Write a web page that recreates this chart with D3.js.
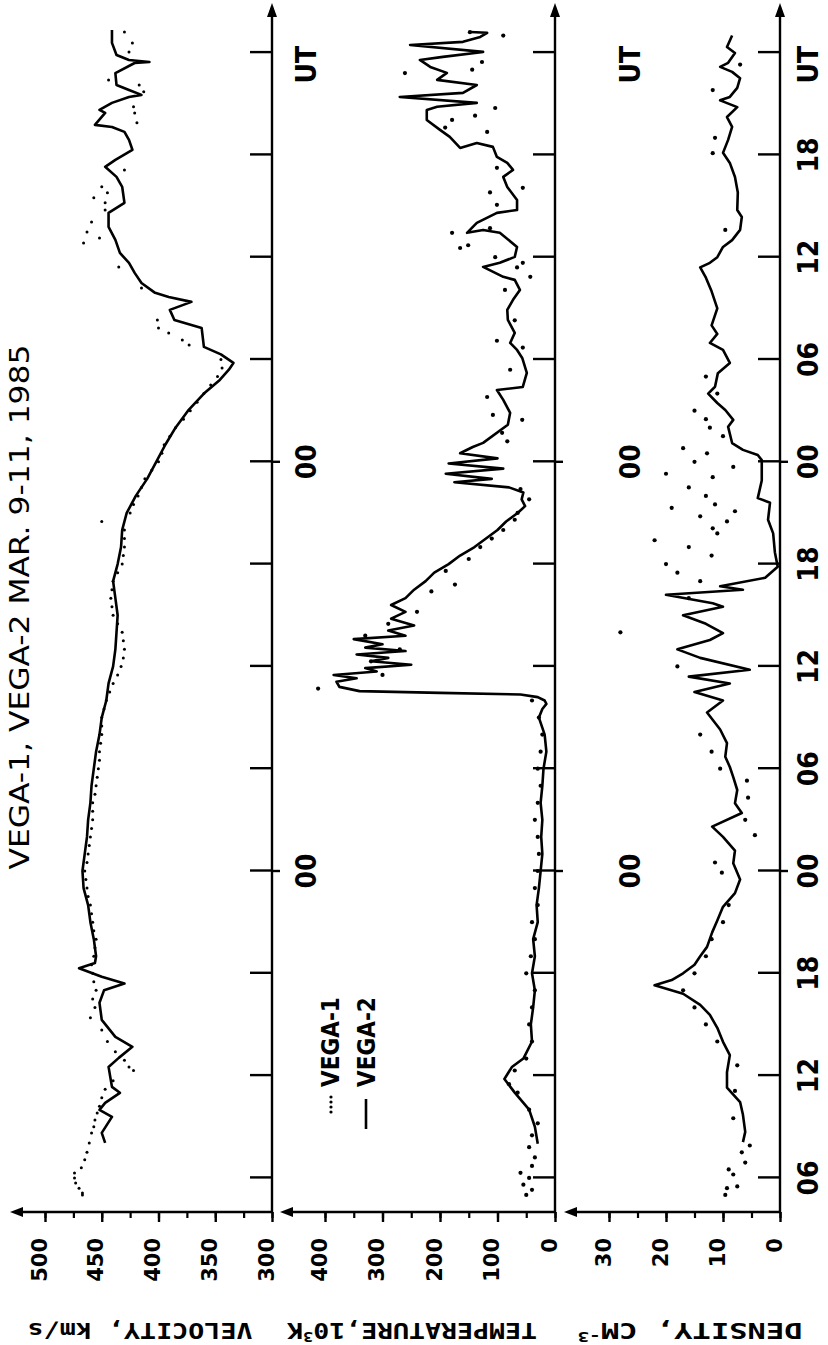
<!DOCTYPE html>
<html>
<head>
<meta charset="utf-8">
<script src="https://cdn.jsdelivr.net/npm/d3@7"></script>
<style>
body { margin: 0; background: #fff; }
text { font-family: "DejaVu Sans Condensed", "DejaVu Sans", sans-serif; font-weight: bold; fill: #000; }
</style>
</head>
<body>
<svg id="chart" width="828" height="1345"></svg>
<script>
// time in hours from 1985-03-09 00 UT
var timeTicks  = [6, 12, 18, 24, 30, 36, 42, 48, 54, 60, 66, 72];
var timeLabels = ['06', '12', '18', '00', '06', '12', '18', '00', '06', '12', '18', 'UT'];

var velTicks = [300, 350, 400, 450, 500];
var tempTicks = [0, 100, 200, 300, 400];
var densTicks = [0, 10, 20, 30];

// VEGA-2 (solid line) and VEGA-1 (dots), [hour, value]
var vel2 = [[8.05,447],[8.64,450],[9.58,441],[9.99,452],[10.4,447],[10.99,434],[11.34,441],[12.51,444],[13.04,435],[13.69,423],[14.27,438],[15.27,450],[16.27,452],[17.0,448],[17.4,430],[17.8,450],[18.3,470],[18.6,456],[19,455],[20,457],[21,460],[22,462],[23,466],[24,467],[25,465],[26,463],[27,462],[28,460],[29,459],[30,457],[31,455],[32,452],[33,450],[34,446],[35,444],[36,440],[37,438],[38,437],[39,436],[40,438],[41,440],[42,436],[43,433],[44,432],[45,428],[46,420],[47,410],[48,402],[49,394],[50,385],[51,374],[52,360],[52.8,346],[53.4,338],[53.8,334],[54.3,345],[54.74,360],[55.85,362],[56.32,386],[56.91,390],[57.38,371],[57.67,391],[57.91,403],[58.49,415],[59.08,421],[59.67,426],[60.25,434],[61.02,438],[61.78,444],[62.6,444],[63.19,430],[64.13,432],[64.71,437],[65.3,447],[65.71,438],[66.3,423],[66.88,426],[67.35,430],[67.64,441],[67.76,456],[68.46,447],[68.64,452],[69.05,441],[69.4,426],[69.52,415],[69.81,426],[70.1,437],[70.8,438],[71.39,421],[71.45,408],[71.57,426],[71.86,437],[72.57,441],[73.33,441]];
var vel1 = [[5.0,467],[5.12,467],[5.4,470],[5.7,473],[6.0,474],[6.29,474],[6.6,468],[7.06,465],[7.5,463],[8.05,461],[8.64,459],[9.0,457],[9.4,456],[9.8,454],[10.2,452],[10.7,450],[11.2,447],[11.7,440],[12.3,422],[12.5,426],[12.9,430],[13.4,438],[14.0,445],[14.68,450],[15.4,460],[16,456],[16.5,458],[17,455],[17.5,457],[18,458],[18.5,459],[19,457],[19.5,456],[20,455],[20.5,457],[21,458],[21.5,459],[22,460],[22.5,462],[23,463],[23.5,464],[24,465],[24.5,463],[25,462],[25.5,461],[26,460],[26.5,459],[27,458],[27.5,458],[28,458],[28.5,456],[29,455],[29.5,454],[30,453],[30.5,452],[31,452],[31.5,451],[32,450],[32.5,450],[33,450],[33.5,448],[34,446],[34.5,443],[35,440],[35.5,436],[36,433],[36.5,431],[37,430],[37.5,431],[38,432],[38.5,436],[39,440],[39.5,441],[40,442],[40.5,441],[41,440],[41.5,436],[42,432],[42.5,431],[43,430],[43.5,430],[44,430],[44.5,450],[45,425],[45.5,422],[46,418],[46.5,415],[47,412],[47.5,406],[48,400],[48.5,397],[49,395],[49.5,390],[50,385],[50.5,378],[51,372],[51.5,366],[52,360],[52.5,354],[53,348],[53.5,344],[54,345],[54.85,373],[55.14,379],[55.56,391],[55.85,400],[56.32,401],[58.2,415],[59.43,435],[60.84,466],[61.13,452],[61.48,463],[62.07,459],[62.77,447],[63.19,447],[63.48,457],[63.78,445],[64.13,450],[65.12,430],[67.88,419],[68.46,421],[68.82,422],[69.7,413],[70.1,417],[70.4,444],[72.04,426],[72.57,423],[73.21,430]];

var temp2 = [[8,30],[9,35],[10,45],[11,70],[11.8,88],[12.5,75],[13,55],[14,40],[15,42],[16,38],[17,35],[18,40],[19,35],[20,38],[21,30],[22,32],[23,28],[24,25],[25,22],[26,24],[27,22],[28,25],[29,22],[30,20],[31,15],[32,18],[33,28],[33.5,22],[33.8,15],[34.0,18],[34.2,30],[34.35,60],[34.45,200],[34.55,340],[34.8,375],[35.1,380],[35.3,345],[35.5,385],[35.7,310],[35.9,330],[36.1,250],[36.3,320],[36.5,290],[36.7,345],[36.9,260],[37.1,330],[37.3,300],[37.6,350],[37.8,260],[38.1,290],[38.4,245],[38.8,285],[39.2,260],[39.6,285],[40.0,260],[40.5,245],[41.0,225],[41.5,210],[42.0,185],[42.5,165],[43.0,140],[43.5,120],[44.0,100],[44.5,85],[45.0,65],[45.4,52],[45.8,58],[46.2,55],[46.5,80],[46.8,175],[47.0,110],[47.3,190],[47.6,90],[47.9,185],[48.2,100],[48.5,165],[48.87,143],[49.11,125],[50.17,82],[50.87,78],[51.63,90],[52.21,101],[52.39,56],[53.21,49],[54.09,57],[54.56,66],[54.97,78],[55.56,70],[56.32,82],[56.91,83],[57.5,73],[58.08,61],[58.67,70],[58.85,90],[59.43,125],[59.67,96],[60.02,70],[60.6,66],[61.43,96],[61.6,125],[61.43,153],[62.01,136],[62.6,101],[62.77,66],[63.36,66],[64.12,83],[64.71,90],[65.12,73],[65.53,83],[65.88,101],[66.47,108],[66.7,136],[66.41,165],[67.06,183],[67.47,200],[68.05,223],[68.64,223],[68.82,205],[69.05,136],[69.4,270],[69.64,160],[70.1,136],[70.4,205],[70.81,188],[71.16,217],[71.57,235],[71.75,195],[72.04,125],[72.45,252],[72.63,160],[72.92,130],[73.16,118],[73.21,148]];
var temp1 = [[5.0,50],[5.3,40],[5.6,55],[6.0,45],[6.3,60],[6.7,40],[7.2,35],[7.8,45],[8.5,40],[9.2,30],[10,45],[11,65],[11.5,80],[12.3,70],[13,50],[14,40],[15,45],[16,40],[17,35],[18,50],[19,42],[20,35],[21,40],[22,30],[23,35],[24,30],[25,28],[26,30],[27,35],[28,30],[29,25],[30,30],[31,25],[32,22],[33,28],[34,40],[34.7,412],[35.5,300],[36.3,320],[37,270],[37.8,330],[38.5,290],[39.2,240],[40.4,215],[40.8,174],[41.6,190],[42.3,150],[43,130],[43.5,110],[44,90],[44.6,70],[45,65],[45.8,45],[46.4,60],[49.2,83],[49.7,92],[50.46,57],[50.75,108],[51.8,118],[53.4,78],[54.7,56],[55.1,101],[56.3,70],[58.08,87],[58.85,43],[59.4,66],[59.67,56],[60.0,104],[60.54,165],[60.7,151],[61.43,179],[61.7,113],[63.07,101],[63.8,113],[64.07,56],[65.24,101],[67.35,118],[67.6,191],[68.05,179],[68.3,139],[68.75,104],[70.8,261],[71.0,144],[71.45,127],[73.0,90],[73.2,148]];

var dens2 = [[8.1,6.5],[8.7,6.1],[9.7,6.5],[10.45,7.0],[11.3,9.3],[12.2,9.3],[13.2,8.8],[13.98,10],[14.8,11],[15.56,12.3],[16.15,14],[16.8,17],[17.3,22],[17.6,19],[18,17],[18.5,15],[19,14],[19.55,12.8],[20.4,11.9],[21.1,11],[21.9,10],[22.7,7.9],[23.5,7.0],[24.45,8.2],[25.2,7.9],[26.0,10],[26.6,11.9],[27.4,6.7],[27.98,7.9],[28.75,7.5],[29.5,8.2],[30.1,8.8],[30.7,9.6],[31.5,9.3],[32.3,10.5],[33.3,12.8],[34,10],[34.5,15],[35,8.8],[35.4,16],[35.8,5.3],[36.5,14],[37,18],[37.55,12.3],[37.95,10],[38.5,13],[39,17],[39.5,10],[39.7,11.8],[40.2,20],[40.5,6.5],[40.7,10.5],[41.2,2.6],[41.85,0.4],[42.7,0.9],[43.8,1.2],[44.6,2.1],[45.6,1.75],[45.87,3.9],[46.9,3.2],[48.1,3.2],[48.4,3.9],[48.7,6.5],[49.1,8.4],[50.05,9.1],[50.46,8.2],[51.04,9.6],[51.45,11],[52.0,12.6],[52.4,11.4],[53.2,10.9],[53.8,8.8],[54.56,10],[54.97,12.3],[55.5,11],[56,12],[57,11],[58,12],[58.8,13],[59.4,14],[59.67,12.3],[60.0,11],[60.6,10],[61.0,8.4],[61.6,7.0],[62.36,6.7],[62.77,7.5],[63.8,7.4],[64.7,7.9],[65.53,8.8],[66.12,10],[66.88,9.1],[67.64,8.4],[68.22,9.3],[68.8,7.5],[69.2,10.5],[69.4,8.8],[69.93,7.5],[70.5,7.0],[70.87,8.4],[71.16,10.5],[71.4,9.1],[71.98,7.9],[72.33,9.3],[73.0,8.4]];
var dens1 = [[5.0,9.6],[5.4,9.3],[5.5,7.5],[6.2,8.2],[6.5,9.0],[6.9,6.1],[7.5,6.7],[7.9,5.3],[9.5,8.2],[11.1,7.9],[12.6,7.5],[14,11],[15,13],[16,15],[17,17],[18,15],[19,13],[20,12],[21,10],[22,9],[23.9,10.2],[24.5,11.4],[26.1,4.4],[27,6.1],[28.3,5.6],[29.3,5.8],[30,10.5],[31,12],[32,14],[36,18],[38,28],[40,16],[41,14],[41.5,18],[42,20],[42.5,12],[43,16],[43.4,22],[43.8,11],[44.1,11.8],[44.5,9.3],[44.8,14],[45.1,7.9],[45.3,19],[45.5,11.4],[46,13],[46.5,16],[47.1,11.8],[47.3,20],[47.7,8.2],[48,15],[48.5,12.8],[48.8,17],[49.5,10],[50,12.3],[50.5,13],[51,15],[52,11],[53,13],[61.6,9.6],[66.1,11.8],[67,11.4],[69.8,11.8],[71.3,7]];

var svg = d3.select('#chart');
// the figure is printed sideways: draw it in landscape and turn it
var g = svg.append('g').attr('transform', 'translate(0,1345) rotate(-90)');

var x = d3.scaleLinear().domain([4, 74]).range([133, 1326.5]);
var xEnd = 1334;

var panels = [
  { y: d3.scaleLinear().domain([300, 500]).range([272, 45]), top: 12, ticks: velTicks, minor: d3.range(300, 501, 25),
    line: vel2, dots: vel1, r: 1.5, title: ['VELOCITY, km/s'], tc: 140, tl: 225, lab: 306 },
  { y: d3.scaleLinear().domain([0, 400]).range([555, 325]), top: 282, ticks: tempTicks, minor: d3.range(0, 401, 50),
    line: temp2, dots: temp1, r: 2.1, title: ['TEMPERATURE,10', '3', 'K'], tc: 412, tl: 250, lab: 630 },
  { y: d3.scaleLinear().domain([0, 30]).range([780, 609]), top: 566, ticks: densTicks, minor: d3.range(0, 31, 5),
    line: dens2, dots: dens1, r: 2.1, title: ['DENSITY, CM', '-3', ''], tc: 690, tl: 225 }
];

var line = d3.line();

panels.forEach(function(p, i){
  var base = p.y.range()[0];
  var pg = g.append('g').attr('class', 'panel');

  // time axis
  pg.append('line').attr('x1', 133).attr('x2', xEnd).attr('y1', base).attr('y2', base)
    .attr('stroke', '#000').attr('stroke-width', 2.4);
  pg.append('path').attr('d', 'M' + (xEnd + 8) + ',' + base + 'l-14,-5l0,10z').attr('fill', '#000');
  var ta = d3.axisTop(x).tickValues(timeTicks).tickSize(22).tickFormat('');
  pg.append('g').attr('transform', 'translate(0,' + base + ')').call(ta)
    .call(function(s){ s.select('.domain').remove(); s.selectAll('line').attr('stroke-width', 2.4); });
  // midnight ticks cross the axis
  pg.selectAll('line.cross').data([24, 48]).enter().append('line').attr('class', 'cross')
    .attr('x1', function(d){ return x(d); }).attr('x2', function(d){ return x(d); })
    .attr('y1', base).attr('y2', base + 8).attr('stroke', '#000').attr('stroke-width', 2.4);

  // value axis
  pg.append('line').attr('x1', 133).attr('x2', 133).attr('y1', base).attr('y2', p.top + 6)
    .attr('stroke', '#000').attr('stroke-width', 2.4);
  pg.append('path').attr('d', 'M133,' + (p.top - 2) + 'l-5,13l10,0z').attr('fill', '#000');
  pg.append('g').attr('transform', 'translate(133,0)')
    .call(d3.axisLeft(p.y).tickValues(p.minor).tickSize(6).tickFormat(''))
    .call(function(s){ s.select('.domain').remove(); s.selectAll('line').attr('stroke-width', 2.2); });
  var va = pg.append('g').attr('transform', 'translate(133,0)')
    .call(d3.axisLeft(p.y).tickValues(p.ticks).tickSize(10).tickPadding(16))
    .call(function(s){ s.select('.domain').remove(); s.selectAll('line').attr('stroke-width', 2.4); });
  va.selectAll('text').attr('font-size', 21).attr('dy', '0.05em')
    .style('font-family', '"DejaVu Sans", sans-serif');

  // axis title, vertical in landscape
  var tt = pg.append('text').attr('transform', 'translate(22,' + p.tc + ') rotate(-90)')
    .attr('text-anchor', 'middle').attr('font-size', 22)
    .attr('textLength', p.tl).attr('lengthAdjust', 'spacingAndGlyphs')
    .style('font-family', '"DejaVu Sans Mono", monospace');
  tt.append('tspan').text(p.title[0]);
  if (p.title[1]) {
    tt.append('tspan').attr('font-size', 14).attr('dy', -9).text(p.title[1]);
    tt.append('tspan').attr('dy', 9).text(p.title[2]);
  }

  // VEGA-1 dots
  pg.append('g').selectAll('circle').data(p.dots).enter().append('circle')
    .attr('cx', function(d){ return x(d[0]); }).attr('cy', function(d){ return p.y(d[1]); })
    .attr('r', p.r).attr('fill', '#000');
  // VEGA-2 line
  pg.append('path').datum(p.line)
    .attr('d', line.x(function(d){ return x(d[0]); }).y(function(d){ return p.y(d[1]); }))
    .attr('fill', 'none').attr('stroke', '#000').attr('stroke-width', 2.6).attr('stroke-linejoin', 'round');

  // time labels
  if (i < 2) {
    pg.selectAll('text.mid').data([24, 48]).enter().append('text').attr('class', 'mid')
      .attr('x', function(d){ return x(d); }).attr('y', p.lab + 10).attr('text-anchor', 'middle')
      .attr('font-size', 28).text('00');
    pg.append('text').attr('x', x(72) - 12).attr('y', p.lab + 10).attr('text-anchor', 'middle')
      .attr('font-size', 28).text('UT');
  } else {
    pg.selectAll('text.tl').data(timeTicks).enter().append('text').attr('class', 'tl')
      .attr('x', function(d){ return d === 72 ? x(d) - 12 : x(d); }).attr('y', base + 38)
      .attr('text-anchor', 'middle').attr('font-size', 28)
      .text(function(d, k){ return timeLabels[k]; });
  }
});

// title
g.append('text').attr('x', 738).attr('y', 29).attr('text-anchor', 'middle')
  .attr('font-size', 26).attr('textLength', 525).attr('lengthAdjust', 'spacingAndGlyphs')
  .style('font-weight', 'normal')
  .text('VEGA-1, VEGA-2   MAR. 9-11, 1985');

// legend
var lg = g.append('g');
lg.selectAll('circle').data([233, 238, 243, 248]).enter().append('circle')
  .attr('cx', function(d){ return d; }).attr('cy', 331).attr('r', 1.6).attr('fill', '#000');
lg.append('text').attr('x', 258).attr('y', 339).attr('font-size', 24).text('VEGA-1');
lg.append('line').attr('x1', 216).attr('x2', 246).attr('y1', 366).attr('y2', 366)
  .attr('stroke', '#000').attr('stroke-width', 2.6);
lg.append('text').attr('x', 258).attr('y', 375).attr('font-size', 24).text('VEGA-2');
</script>
</body>
</html>
